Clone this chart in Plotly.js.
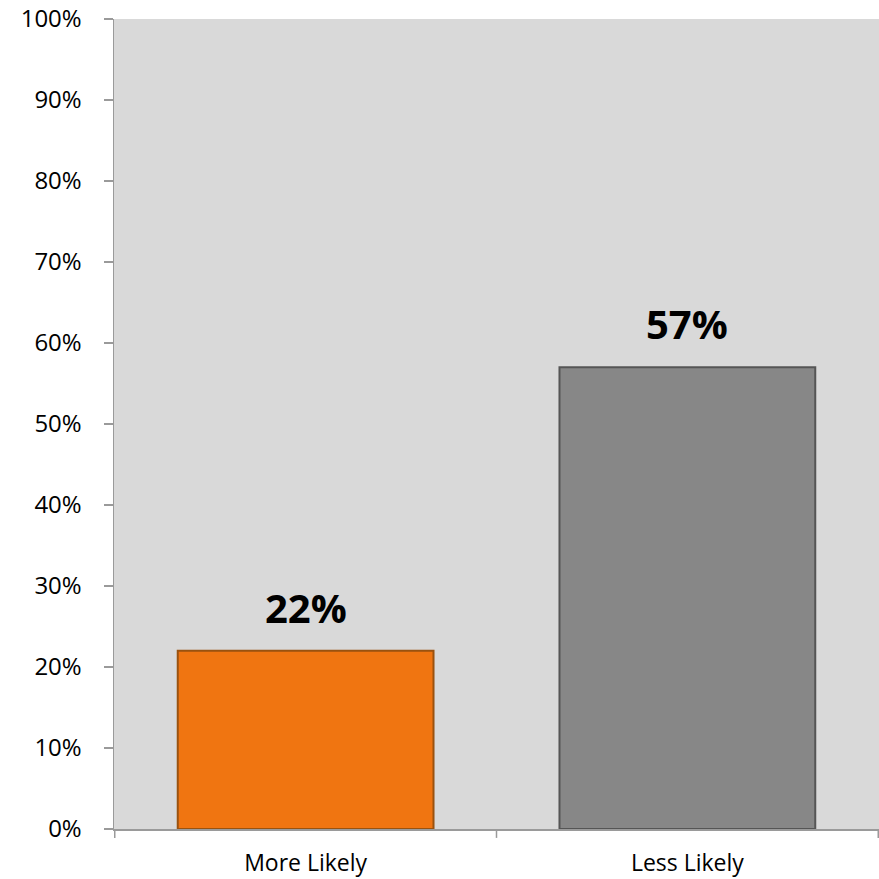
<!DOCTYPE html>
<html>
<head>
<meta charset="utf-8">
<script src="https://cdn.plot.ly/plotly-3.0.1.min.js"></script>
<style>html,body{margin:0;padding:0;background:#fff}#chart{width:879px;height:879px}</style>
</head>
<body>
<div id="chart"></div>
<script>
const categories = ["More Likely", "Less Likely"];
const values = [0.22, 0.57];
const labels = ["22%", "57%"];
const barColors = ["#F07511", "#878787"];
const edgeColors = ["#9A520F", "#555555"];
const yTickVals = [0, 0.1, 0.2, 0.3, 0.4, 0.5, 0.6, 0.7, 0.8, 0.9, 1.0];
const yTickText = ["0%", "10%", "20%", "30%", "40%", "50%", "60%", "70%", "80%", "90%", "100%"];

const font = "Open Sans, Noto Sans, sans-serif";

const trace = {
  type: "bar",
  x: categories,
  y: values,
  width: 0.67,
  marker: { color: barColors, line: { color: edgeColors, width: 2 } },
  hoverinfo: "none"
};

const annotations = categories.map((c, i) => ({
  x: c, y: values[i], xref: "x", yref: "y",
  text: "<b>" + labels[i] + "</b>",
  showarrow: false, yanchor: "bottom", yshift: 14,
  font: { family: font, size: 40, color: "#000" }
}));

const layout = {
  width: 879, height: 879,
  margin: { l: 114, r: 0, t: 19, b: 50, pad: 0 },
  paper_bgcolor: "#ffffff",
  plot_bgcolor: "#D9D9D9",
  showlegend: false,
  bargap: 0.33,
  xaxis: {
    type: "category",
    showline: true, linecolor: "#9A9A9A", linewidth: 1.5,
    ticks: "", showgrid: false, zeroline: false,
    tickfont: { family: font, size: 23, color: "#000" },
    ticklabelstandoff: 13
  },
  yaxis: {
    range: [0, 1], tickvals: yTickVals, ticktext: yTickText,
    showline: true, linecolor: "#9A9A9A", linewidth: 1.5,
    ticks: "outside", ticklen: 9, tickcolor: "#9A9A9A", tickwidth: 1.5,
    showgrid: false, zeroline: false,
    ticklabelstandoff: 17,
    tickfont: { family: font, size: 24, color: "#000" }
  },
  shapes: [0, 1, 2].map(k => ({
    type: "line", xref: "x", yref: "paper",
    x0: k - 0.5, x1: k - 0.5, y0: 0, y1: -0.011,
    line: { color: "#9A9A9A", width: 1.5 }
  })),
  annotations: annotations
};

Plotly.newPlot("chart", [trace], layout, { displayModeBar: false, staticPlot: true });
</script>
</body>
</html>
